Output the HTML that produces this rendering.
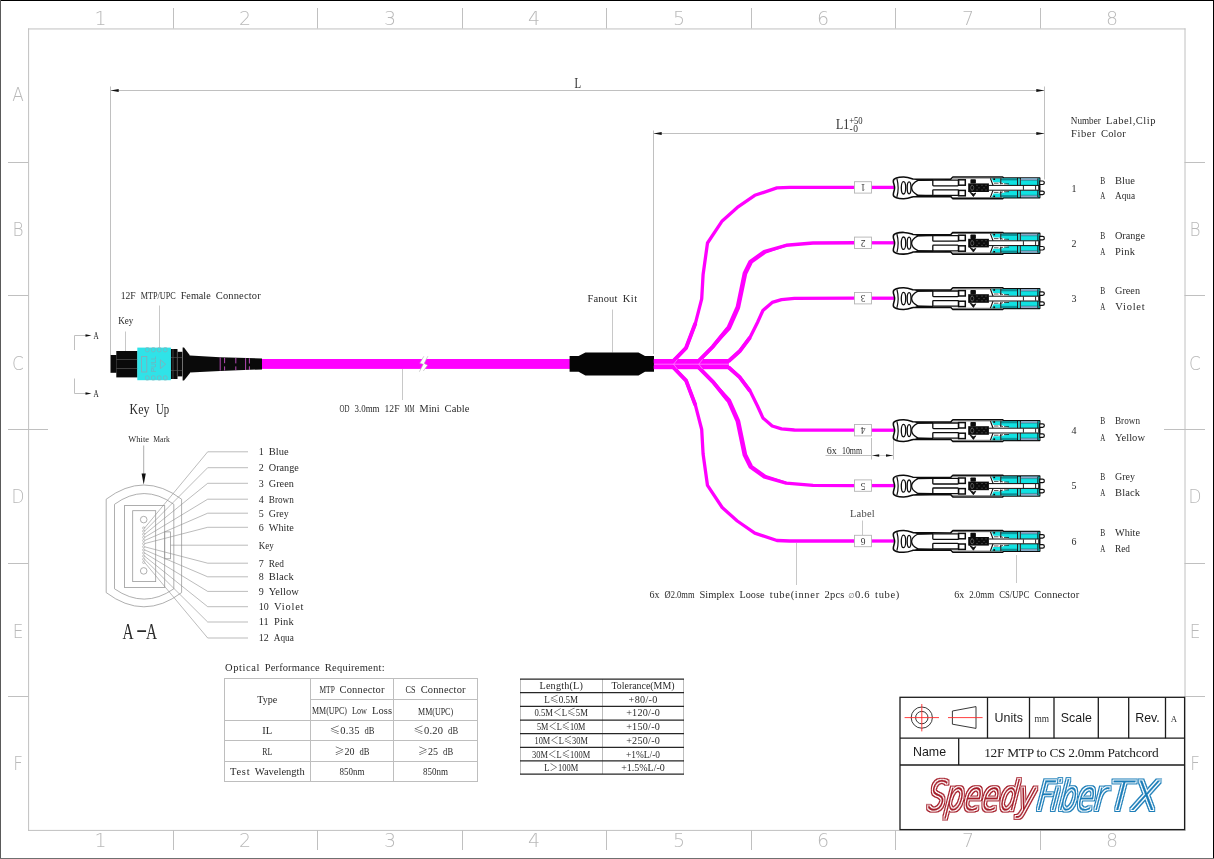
<!DOCTYPE html>
<html lang="en"><head><meta charset="utf-8"><title>12F MTP to CS 2.0mm Patchcord</title>
<style>html,body{margin:0;padding:0;background:#fff;}body{width:1214px;height:859px;overflow:hidden;}svg{display:block;will-change:transform;}text{font-family:"Liberation Serif","Noto Serif CJK SC",serif;white-space:pre;}.sans{font-family:"Liberation Sans","Noto Sans CJK SC",sans-serif;}.thin{font-family:"DejaVu Sans Light","DejaVu Sans","Liberation Sans",sans-serif;font-weight:200;}</style></head><body>
<svg width="1214" height="859" viewBox="0 0 1214 859">
<rect width="1214" height="859" fill="#fff"/>
<g shape-rendering="crispEdges">
<rect x="0.00" y="0.00" width="1214.00" height="1.00" fill="#000" stroke="none" stroke-width="1"/>
<rect x="0.00" y="0.00" width="1.00" height="859.00" fill="#5a5a5a" stroke="none" stroke-width="1"/>
<rect x="1213.00" y="0.00" width="1.00" height="859.00" fill="#000" stroke="none" stroke-width="1"/>
<rect x="0.00" y="858.00" width="1214.00" height="1.00" fill="#707070" stroke="none" stroke-width="1"/>
</g>
<g stroke="#c0c0c0" stroke-width="1" fill="none">
<path d="M28.6 28.4V830.9M1185 28.4V830.9M28.1 28.95H1185.5M28.1 830.4H1185.5"/>
<path d="M173.5 8V28.5M173.5 830V850"/>
<path d="M317.5 8V28.5M317.5 830V850"/>
<path d="M462.5 8V28.5M462.5 830V850"/>
<path d="M606.5 8V28.5M606.5 830V850"/>
<path d="M751.5 8V28.5M751.5 830V850"/>
<path d="M895.5 8V28.5M895.5 830V850"/>
<path d="M1040.5 8V28.5M1040.5 830V850"/>
<path d="M8 162.5H28.5M1184.5 162.5H1205"/>
<path d="M8 295.5H28.5M1184.5 295.5H1205"/>
<path d="M8 429.5H48M1164 429.5H1205"/>
<path d="M8 563.5H28.5M1184.5 563.5H1205"/>
<path d="M8 696.5H28.5M1184.5 696.5H1205"/>
</g>
<g class="thin" font-size="19" fill="#b9b9b9" text-anchor="middle">
<text class="thin" x="100.5" y="25.3">1</text>
<text class="thin" x="100.5" y="847.2">1</text>
<text class="thin" x="245" y="25.3">2</text>
<text class="thin" x="245" y="847.2">2</text>
<text class="thin" x="390" y="25.3">3</text>
<text class="thin" x="390" y="847.2">3</text>
<text class="thin" x="534" y="25.3">4</text>
<text class="thin" x="534" y="847.2">4</text>
<text class="thin" x="679" y="25.3">5</text>
<text class="thin" x="679" y="847.2">5</text>
<text class="thin" x="823" y="25.3">6</text>
<text class="thin" x="823" y="847.2">6</text>
<text class="thin" x="968" y="25.3">7</text>
<text class="thin" x="968" y="847.2">7</text>
<text class="thin" x="1112" y="25.3">8</text>
<text class="thin" x="1112" y="847.2">8</text>
<text class="thin" font-size="19.2" transform="translate(18 100.5) scale(.88 1)">A</text>
<text class="thin" font-size="19.2" transform="translate(18 236.4) scale(.88 1)">B</text>
<text class="thin" font-size="19.2" transform="translate(1195 236.4) scale(.88 1)">B</text>
<text class="thin" font-size="19.2" transform="translate(18 369.6) scale(.88 1)">C</text>
<text class="thin" font-size="19.2" transform="translate(1195 369.6) scale(.88 1)">C</text>
<text class="thin" font-size="19.2" transform="translate(18 502.6) scale(.88 1)">D</text>
<text class="thin" font-size="19.2" transform="translate(1195 502.6) scale(.88 1)">D</text>
<text class="thin" font-size="19.2" transform="translate(18 637.6) scale(.88 1)">E</text>
<text class="thin" font-size="19.2" transform="translate(1195 637.6) scale(.88 1)">E</text>
<text class="thin" font-size="19.2" transform="translate(18 770.0) scale(.88 1)">F</text>
<text class="thin" font-size="19.2" transform="translate(1195 770.0) scale(.88 1)">F</text>
</g>
<g stroke="#c0c0c0" stroke-width="1" fill="none">
<path d="M110.5 86.5V355"/>
<path d="M1044.5 86.5V179.5"/>
<path d="M110.5 90.5H1044.5"/>
<path d="M653.5 130.5V354"/>
<path d="M653.5 133.5H1044.5"/>
<g stroke="#c8c8c8">
<path d="M125.5 331.5V359.5"/>
<path d="M159.5 305.5V347.5"/>
<path d="M402.5 369V400"/>
<path d="M612.5 309.5V352.5"/>
<path d="M796.5 543V585"/>
<path d="M1016.5 555V583"/>
<path d="M862.5 520.5V535"/>
</g>
<path d="M825.5 455.5H872M871.5 438V459.5M893.5 439V459.5"/><path d="M872 455.5H893.5" stroke="#d0d0d0"/>
<path d="M89 335.5H74.5V350M74.5 378.5V393.5H89"/>
</g>
<path d="M110.5 90.5L118.7 89.0L118.7 92.0Z" fill="#111" stroke="none" stroke-width="1"/>
<path d="M1044.5 90.5L1036.3 89.0L1036.3 92.0Z" fill="#111" stroke="none" stroke-width="1"/>
<path d="M653.5 133.5L661.7 132.0L661.7 135.0Z" fill="#111" stroke="none" stroke-width="1"/>
<path d="M1044.5 133.5L1036.3 132.0L1036.3 135.0Z" fill="#111" stroke="none" stroke-width="1"/>
<path d="M91.5 335.5L85.5 334.3L85.5 336.7Z" fill="#111" stroke="none" stroke-width="1"/>
<path d="M91.5 393.5L85.5 392.3L85.5 394.7Z" fill="#111" stroke="none" stroke-width="1"/>
<path d="M872.0 455.6L879.2 454.35L879.2 456.85Z" fill="#111" stroke="none" stroke-width="1"/>
<path d="M893.2 455.6L886.0 454.35L886.0 456.85Z" fill="#111" stroke="none" stroke-width="1"/>
<rect x="258.00" y="359.00" width="315.00" height="9.90" fill="#ff00ff" stroke="none" stroke-width="1"/>
<path d="M423.9 356.2 L419.8 363.2 L423.2 364.3 L419.3 371.8 L423.3 371.0 L427.5 365.3 L424.2 363.4 L427.9 356.2 Z" fill="#fff" stroke="none" stroke-width="1"/>
<path d="M423.9 356.2 L419.8 363.2 L423.2 364.3 L419.3 371.8 M423.3 371.0 L427.5 365.3 L424.2 363.4 L427.9 356.2" fill="none" stroke="#b0b0b0" stroke-width="0.6"/>
<g>
<rect x="110.50" y="355.00" width="6.00" height="17.80" fill="#0a0a0a" stroke="none" stroke-width="1"/>
<rect x="116.30" y="351.00" width="21.20" height="26.40" fill="#0a0a0a" stroke="none" stroke-width="1"/>
<path d="M116.3 359.5H137.5M116.3 368.5H137.5" fill="none" stroke="#555" stroke-width="0.7"/>
<rect x="170.50" y="349.00" width="7.00" height="30.00" fill="#0a0a0a" stroke="none" stroke-width="1"/>
<rect x="177.30" y="351.80" width="5.00" height="24.60" fill="#0a0a0a" stroke="none" stroke-width="1"/>
<path d="M173 349V379M177.3 352V376" fill="none" stroke="#666" stroke-width="0.6"/>
<path d="M170.5 357.5H182M170.5 370.5H182" fill="none" stroke="#555" stroke-width="0.6"/>
<rect x="137.30" y="347.60" width="33.60" height="32.60" fill="#2fe3e8" stroke="none" stroke-width="1"/>
<rect x="145.50" y="347.60" width="3.60" height="4.20" fill="none" stroke="#86aeb8" stroke-width="0.7" rx="1.2"/>
<rect x="145.50" y="375.80" width="3.60" height="4.20" fill="none" stroke="#86aeb8" stroke-width="0.7" rx="1.2"/>
<rect x="151.50" y="347.60" width="3.60" height="4.20" fill="none" stroke="#86aeb8" stroke-width="0.7" rx="1.2"/>
<rect x="151.50" y="375.80" width="3.60" height="4.20" fill="none" stroke="#86aeb8" stroke-width="0.7" rx="1.2"/>
<rect x="157.50" y="347.60" width="3.60" height="4.20" fill="none" stroke="#86aeb8" stroke-width="0.7" rx="1.2"/>
<rect x="157.50" y="375.80" width="3.60" height="4.20" fill="none" stroke="#86aeb8" stroke-width="0.7" rx="1.2"/>
<rect x="163.50" y="347.60" width="3.60" height="4.20" fill="none" stroke="#86aeb8" stroke-width="0.7" rx="1.2"/>
<rect x="163.50" y="375.80" width="3.60" height="4.20" fill="none" stroke="#86aeb8" stroke-width="0.7" rx="1.2"/>
<rect x="141.60" y="356.40" width="5.20" height="15.60" fill="none" stroke="#8aa9b6" stroke-width="0.8"/>
<path d="M160.4 359.8L165.6 364.2L160.4 368.6Z" fill="none" stroke="#8aa9b6" stroke-width="0.8"/>
<text class="sans" font-size="6.3" fill="#84a6b4" text-anchor="middle" transform="translate(156.4 364.0) rotate(-90)">PULL</text>
<path d="M182.6 347.6 L184 347.6 L190 355.5 L190 372.9 L184 380.6 L182.6 380.6 Z" fill="#0a0a0a" stroke="none" stroke-width="1"/>
<path d="M190 355.4 L220 357.2 L262 358.4 L262 369.4 L220 370.9 L190 372.6 Z" fill="#0a0a0a" stroke="none" stroke-width="1"/>
<path d="M220.2 357.6V370.6M224.6 357.8V363.2M224.6 366.4V370.4M235.8 358V363.4M235.8 366.4V370.2M245.6 358.2V370M249.4 358.3V363.5M249.4 366.3V369.9" fill="none" stroke="#e25ae2" stroke-width="0.8"/>
</g>
<path d="M569.6 356 L578.6 356 L585.4 352.4 L638.5 352.4 L645 356 L654 356 L654 371.8 L645 371.8 L638.5 375.4 L585.4 375.4 L578.6 371.8 L569.6 371.8 Z" fill="#050505" stroke="none" stroke-width="1"/>
<rect x="653.90" y="359.00" width="75.00" height="10.20" fill="#ff00ff" stroke="none" stroke-width="1"/>
<path d="M654 364.2H729" fill="none" stroke="#ff8cff" stroke-width="0.8"/>
<path d="M653.9 361.4 L673.0 361.4 L686.1 347.8 L695.4 323.3 L701.7 298.9 L703.1 274.4 L707.5 243.0 L722.2 220.9 L737.3 207.4 L754.8 195.3 L776.9 187.9 L789.7 187.4 L855.0 187.4" fill="none" stroke="#ff00ff" stroke-width="3.3" stroke-linejoin="round" stroke-linecap="butt"/>
<path d="M653.9 367.0 L673.0 367.0 L686.1 380.6 L695.4 405.1 L701.7 429.5 L703.1 454.0 L707.5 485.4 L722.2 507.5 L737.3 521.0 L754.8 533.1 L776.9 540.5 L789.7 541.0 L855.0 541.0" fill="none" stroke="#ff00ff" stroke-width="3.3" stroke-linejoin="round" stroke-linecap="butt"/>
<path d="M673.0 361.4 L686.1 347.8 L695.4 323.3" fill="none" stroke="#ff00ff" stroke-width="3.9" stroke-linejoin="round" stroke-linecap="butt"/>
<path d="M673.0 367.0 L686.1 380.6 L695.4 405.1" fill="none" stroke="#ff00ff" stroke-width="3.9" stroke-linejoin="round" stroke-linecap="butt"/>
<path d="M653.9 361.0 L698.6 361.0 L712.9 346.6 L728.0 328.0 L737.3 307.0 L744.3 273.3 L750.1 261.6 L764.1 251.6 L786.2 245.3 L813.0 243.0 L855.0 242.8" fill="none" stroke="#ff00ff" stroke-width="3.4" stroke-linejoin="round" stroke-linecap="butt"/>
<path d="M653.9 367.4 L698.6 367.4 L712.9 381.8 L728.0 400.4 L737.3 421.4 L744.3 455.1 L750.1 466.8 L764.1 476.8 L786.2 483.1 L813.0 485.4 L855.0 485.6" fill="none" stroke="#ff00ff" stroke-width="3.4" stroke-linejoin="round" stroke-linecap="butt"/>
<path d="M698.6 361.0 L712.9 346.6 L728.0 328.0" fill="none" stroke="#ff00ff" stroke-width="3.9" stroke-linejoin="round" stroke-linecap="butt"/>
<path d="M698.6 367.4 L712.9 381.8 L728.0 400.4" fill="none" stroke="#ff00ff" stroke-width="3.9" stroke-linejoin="round" stroke-linecap="butt"/>
<path d="M653.9 361.2 L728.5 361.2 L739.6 351.3 L750.1 337.3 L757.6 322.2 L762.9 310.5 L772.2 302.4 L781.5 299.6 L794.4 298.4 L855.0 298.2" fill="none" stroke="#ff00ff" stroke-width="3.3" stroke-linejoin="round" stroke-linecap="butt"/>
<path d="M653.9 367.2 L728.5 367.2 L739.6 377.1 L750.1 391.1 L757.6 406.2 L762.9 417.9 L772.2 426.0 L781.5 428.8 L794.4 430.0 L855.0 430.2" fill="none" stroke="#ff00ff" stroke-width="3.3" stroke-linejoin="round" stroke-linecap="butt"/>
<path d="M728.5 361.2 L739.6 351.3 L750.1 337.3" fill="none" stroke="#ff00ff" stroke-width="3.9" stroke-linejoin="round" stroke-linecap="butt"/>
<path d="M728.5 367.2 L739.6 377.1 L750.1 391.1" fill="none" stroke="#ff00ff" stroke-width="3.9" stroke-linejoin="round" stroke-linecap="butt"/>
<path d="M677.4 359.4 L673.6 364.2 L677.4 369 M702.6 359.4 L698.8 364.2 L702.6 369" fill="none" stroke="#ffa8ff" stroke-width="0.6"/>
<path d="M712.9 346.6 L729.6 328.6 L738.9 307.6 L745.9 273.9 L751.7 262.2 L765.7 252.2 L786.2 245.3" fill="none" stroke="#ff00ff" stroke-width="2.6" stroke-linejoin="round" stroke-linecap="butt"/>
<path d="M712.9 381.8 L729.6 399.8 L738.9 420.8 L745.9 454.5 L751.7 466.2 L765.7 476.2 L786.2 483.1" fill="none" stroke="#ff00ff" stroke-width="2.6" stroke-linejoin="round" stroke-linecap="butt"/>
<rect x="871.00" y="185.75" width="23.00" height="3.30" fill="#ff00ff" stroke="none" stroke-width="1"/>
<rect x="871.00" y="241.15" width="23.00" height="3.30" fill="#ff00ff" stroke="none" stroke-width="1"/>
<rect x="871.00" y="296.55" width="23.00" height="3.30" fill="#ff00ff" stroke="none" stroke-width="1"/>
<rect x="871.00" y="428.55" width="23.00" height="3.30" fill="#ff00ff" stroke="none" stroke-width="1"/>
<rect x="871.00" y="483.95" width="23.00" height="3.30" fill="#ff00ff" stroke="none" stroke-width="1"/>
<rect x="871.00" y="539.35" width="23.00" height="3.30" fill="#ff00ff" stroke="none" stroke-width="1"/>
<rect x="854.50" y="181.70" width="17.00" height="11.40" fill="#fff" stroke="#b4b4b4" stroke-width="0.9"/>
<text font-size="9.5" fill="#333" text-anchor="middle" transform="translate(863 184.3) rotate(180)">1</text>
<rect x="854.50" y="237.10" width="17.00" height="11.40" fill="#fff" stroke="#b4b4b4" stroke-width="0.9"/>
<text font-size="9.5" fill="#333" text-anchor="middle" transform="translate(863 239.7) rotate(180)">2</text>
<rect x="854.50" y="292.50" width="17.00" height="11.40" fill="#fff" stroke="#b4b4b4" stroke-width="0.9"/>
<text font-size="9.5" fill="#333" text-anchor="middle" transform="translate(863 295.1) rotate(180)">3</text>
<rect x="854.50" y="424.50" width="17.00" height="11.40" fill="#fff" stroke="#b4b4b4" stroke-width="0.9"/>
<text font-size="9.5" fill="#333" text-anchor="middle" transform="translate(863 427.1) rotate(180)">4</text>
<rect x="854.50" y="479.90" width="17.00" height="11.40" fill="#fff" stroke="#b4b4b4" stroke-width="0.9"/>
<text font-size="9.5" fill="#333" text-anchor="middle" transform="translate(863 482.5) rotate(180)">5</text>
<rect x="854.50" y="535.30" width="17.00" height="11.40" fill="#fff" stroke="#b4b4b4" stroke-width="0.9"/>
<text font-size="9.5" fill="#333" text-anchor="middle" transform="translate(863 537.9) rotate(180)">6</text>
<g transform="translate(893 187.8)">
<path d="M1.6 0 C1.6 -3 .3 -4 .3 -6.8 C.3 -9.6 5 -10.9 10.8 -10.8 C15 -10.8 17.2 -9.8 20 -8.8 L57.6 -8.5 L59.9 -10.8 L109.6 -10.8 L110.6 -9.9 L146.7 -9.9 L146.7 9.9 L110.6 9.9 L109.6 10.9 L59.9 10.9 L57.6 8.6 L20 8.9 C17.2 9.9 15 10.9 10.8 10.9 C5 11 .3 9.7 .3 7 C.3 4 1.6 3 1.6 0Z" fill="#fff" stroke="#0c0c0c" stroke-width="1.55" stroke-linejoin="round"/>
<g transform="scale(1 1)">
<path d="M98.4 -9.9 L107.6 -9.9 L107.6 -5.6 L100.4 -5.6 Z" fill="#10e2e2" stroke="none" stroke-width="1"/>
<path d="M108.1 -9.4 H124.2 V-2.9 H116.5 L108.1 -5.6 Z" fill="#10e2e2" stroke="none" stroke-width="1"/>
<rect x="108.10" y="-9.50" width="16.10" height="1.70" fill="#118f96" stroke="none" stroke-width="1"/>
<rect x="125.10" y="-9.40" width="1.70" height="6.60" fill="#10e2e2" stroke="none" stroke-width="1"/>
<rect x="127.90" y="-9.40" width="18.60" height="6.80" fill="#10e2e2" stroke="none" stroke-width="1"/>
<rect x="127.90" y="-9.50" width="17.00" height="2.00" fill="#8fa3c4" stroke="none" stroke-width="1"/>
<path d="M107.8 -9.9V-3.4M124.6 -9.9V-2.4M127.3 -9.9V-2.4M144.9 -9.4V-2.4" fill="none" stroke="#0c0c0c" stroke-width="1.0"/>
<path d="M108.1 -7.7H124.2M127.9 -7.4H144.9" fill="none" stroke="#0e6e74" stroke-width="0.5"/>
<rect x="100.30" y="-9.60" width="1.80" height="1.80" fill="#0c0c0c" stroke="none" stroke-width="1"/>
<path d="M97.4 -9.6 L100 -2.6" fill="none" stroke="#0c0c0c" stroke-width="1.1"/>
<path d="M101 -4.6 h4.5 M106.6 -5.2 l3.4 1.2 M111 -3.9 h5" fill="none" stroke="#0c0c0c" stroke-width="0.7"/>
<rect x="65.60" y="-8.00" width="6.70" height="5.40" fill="#fff" stroke="#0c0c0c" stroke-width="1.5"/>
<rect x="39.80" y="-7.60" width="25.60" height="5.60" fill="#fff" stroke="#0c0c0c" stroke-width="1.3" rx="0.8"/>
<path d="M146.7 -6.8 H149.6 A1.75 1.75 0 0 1 149.6 -3.3 H146.7 Z" fill="#fff" stroke="#0c0c0c" stroke-width="1.2"/>
<path d="M95.5 -2.4 H146" fill="none" stroke="#0c0c0c" stroke-width="1.0"/>
<path d="M60 -9.7 H109.5" fill="none" stroke="#555" stroke-width="0.8"/>
</g>
<g transform="scale(1 -1)">
<path d="M98.4 -9.9 L107.6 -9.9 L107.6 -5.6 L100.4 -5.6 Z" fill="#10e2e2" stroke="none" stroke-width="1"/>
<path d="M108.1 -9.4 H124.2 V-2.9 H116.5 L108.1 -5.6 Z" fill="#10e2e2" stroke="none" stroke-width="1"/>
<rect x="108.10" y="-9.50" width="16.10" height="1.70" fill="#118f96" stroke="none" stroke-width="1"/>
<rect x="125.10" y="-9.40" width="1.70" height="6.60" fill="#10e2e2" stroke="none" stroke-width="1"/>
<rect x="127.90" y="-9.40" width="18.60" height="6.80" fill="#10e2e2" stroke="none" stroke-width="1"/>
<rect x="127.90" y="-9.50" width="17.00" height="2.00" fill="#8fa3c4" stroke="none" stroke-width="1"/>
<path d="M107.8 -9.9V-3.4M124.6 -9.9V-2.4M127.3 -9.9V-2.4M144.9 -9.4V-2.4" fill="none" stroke="#0c0c0c" stroke-width="1.0"/>
<path d="M108.1 -7.7H124.2M127.9 -7.4H144.9" fill="none" stroke="#0e6e74" stroke-width="0.5"/>
<rect x="100.30" y="-9.60" width="1.80" height="1.80" fill="#0c0c0c" stroke="none" stroke-width="1"/>
<path d="M97.4 -9.6 L100 -2.6" fill="none" stroke="#0c0c0c" stroke-width="1.1"/>
<path d="M101 -4.6 h4.5 M106.6 -5.2 l3.4 1.2 M111 -3.9 h5" fill="none" stroke="#0c0c0c" stroke-width="0.7"/>
<rect x="65.60" y="-8.00" width="6.70" height="5.40" fill="#fff" stroke="#0c0c0c" stroke-width="1.5"/>
<rect x="39.80" y="-7.60" width="25.60" height="5.60" fill="#fff" stroke="#0c0c0c" stroke-width="1.3" rx="0.8"/>
<path d="M146.7 -6.8 H149.6 A1.75 1.75 0 0 1 149.6 -3.3 H146.7 Z" fill="#fff" stroke="#0c0c0c" stroke-width="1.2"/>
<path d="M95.5 -2.4 H146" fill="none" stroke="#0c0c0c" stroke-width="1.0"/>
<path d="M60 -9.7 H109.5" fill="none" stroke="#555" stroke-width="0.8"/>
</g>
<path d="M3.9 -9.2 Q6.4 0 3.9 9.2" fill="none" stroke="#0c0c0c" stroke-width="1.2"/>
<ellipse cx="10.5" cy="0" rx="2.2" ry="6.2" fill="#fff" stroke="#0c0c0c" stroke-width="1.3"/>
<ellipse cx="16.1" cy="0" rx="1.9" ry="6.0" fill="#fff" stroke="#0c0c0c" stroke-width="1.3"/>
<path d="M40 -7.6 L25 -7.4 C20.5 -5.2 18.6 -2.6 18.6 0 C18.6 2.6 20.5 5.2 25 7.5 L40 7.7" fill="none" stroke="#0c0c0c" stroke-width="1.3"/>
<path d="M21 -8.8 L40 -8.6 L40 -7.4 L25 -6.9 Z M21 8.9 L40 8.7 L40 7.5 L25 7.0 Z" fill="#0c0c0c" stroke="none" stroke-width="1"/>
<rect x="75.20" y="-4.40" width="20.70" height="8.60" fill="#0c0c0c" stroke="none" stroke-width="1"/>
<rect x="77.40" y="-8.60" width="5.50" height="4.40" fill="#0c0c0c" stroke="none" stroke-width="1" rx="0.8"/>
<path d="M76.6 4 L80.4 8.8 L82.8 5.2 L80.4 6.2 Z" fill="#0c0c0c" stroke="#0c0c0c" stroke-width="0.8"/>
<path d="M78 -2.5 h2 M83 -2.5 h2 M88 -2.5 h2 M92 -2.5 h2 M78 2.2 h2 M83 2.2 h2 M88 2.2 h2 M92 2.2 h2 M85 0 h2 M90 0 h2" fill="none" stroke="#555" stroke-width="0.6"/>
<ellipse cx="79.2" cy="0" rx="1.6" ry="2.4" fill="none" stroke="#777" stroke-width="0.6"/>
<path d="M130.4 -2 V2 M142.6 -2 V2 M145.7 -2 V2" fill="none" stroke="#0c0c0c" stroke-width="0.9"/>
</g>
<g transform="translate(893 243.2)">
<path d="M1.6 0 C1.6 -3 .3 -4 .3 -6.8 C.3 -9.6 5 -10.9 10.8 -10.8 C15 -10.8 17.2 -9.8 20 -8.8 L57.6 -8.5 L59.9 -10.8 L109.6 -10.8 L110.6 -9.9 L146.7 -9.9 L146.7 9.9 L110.6 9.9 L109.6 10.9 L59.9 10.9 L57.6 8.6 L20 8.9 C17.2 9.9 15 10.9 10.8 10.9 C5 11 .3 9.7 .3 7 C.3 4 1.6 3 1.6 0Z" fill="#fff" stroke="#0c0c0c" stroke-width="1.55" stroke-linejoin="round"/>
<g transform="scale(1 1)">
<path d="M98.4 -9.9 L107.6 -9.9 L107.6 -5.6 L100.4 -5.6 Z" fill="#10e2e2" stroke="none" stroke-width="1"/>
<path d="M108.1 -9.4 H124.2 V-2.9 H116.5 L108.1 -5.6 Z" fill="#10e2e2" stroke="none" stroke-width="1"/>
<rect x="108.10" y="-9.50" width="16.10" height="1.70" fill="#118f96" stroke="none" stroke-width="1"/>
<rect x="125.10" y="-9.40" width="1.70" height="6.60" fill="#10e2e2" stroke="none" stroke-width="1"/>
<rect x="127.90" y="-9.40" width="18.60" height="6.80" fill="#10e2e2" stroke="none" stroke-width="1"/>
<rect x="127.90" y="-9.50" width="17.00" height="2.00" fill="#8fa3c4" stroke="none" stroke-width="1"/>
<path d="M107.8 -9.9V-3.4M124.6 -9.9V-2.4M127.3 -9.9V-2.4M144.9 -9.4V-2.4" fill="none" stroke="#0c0c0c" stroke-width="1.0"/>
<path d="M108.1 -7.7H124.2M127.9 -7.4H144.9" fill="none" stroke="#0e6e74" stroke-width="0.5"/>
<rect x="100.30" y="-9.60" width="1.80" height="1.80" fill="#0c0c0c" stroke="none" stroke-width="1"/>
<path d="M97.4 -9.6 L100 -2.6" fill="none" stroke="#0c0c0c" stroke-width="1.1"/>
<path d="M101 -4.6 h4.5 M106.6 -5.2 l3.4 1.2 M111 -3.9 h5" fill="none" stroke="#0c0c0c" stroke-width="0.7"/>
<rect x="65.60" y="-8.00" width="6.70" height="5.40" fill="#fff" stroke="#0c0c0c" stroke-width="1.5"/>
<rect x="39.80" y="-7.60" width="25.60" height="5.60" fill="#fff" stroke="#0c0c0c" stroke-width="1.3" rx="0.8"/>
<path d="M146.7 -6.8 H149.6 A1.75 1.75 0 0 1 149.6 -3.3 H146.7 Z" fill="#fff" stroke="#0c0c0c" stroke-width="1.2"/>
<path d="M95.5 -2.4 H146" fill="none" stroke="#0c0c0c" stroke-width="1.0"/>
<path d="M60 -9.7 H109.5" fill="none" stroke="#555" stroke-width="0.8"/>
</g>
<g transform="scale(1 -1)">
<path d="M98.4 -9.9 L107.6 -9.9 L107.6 -5.6 L100.4 -5.6 Z" fill="#10e2e2" stroke="none" stroke-width="1"/>
<path d="M108.1 -9.4 H124.2 V-2.9 H116.5 L108.1 -5.6 Z" fill="#10e2e2" stroke="none" stroke-width="1"/>
<rect x="108.10" y="-9.50" width="16.10" height="1.70" fill="#118f96" stroke="none" stroke-width="1"/>
<rect x="125.10" y="-9.40" width="1.70" height="6.60" fill="#10e2e2" stroke="none" stroke-width="1"/>
<rect x="127.90" y="-9.40" width="18.60" height="6.80" fill="#10e2e2" stroke="none" stroke-width="1"/>
<rect x="127.90" y="-9.50" width="17.00" height="2.00" fill="#8fa3c4" stroke="none" stroke-width="1"/>
<path d="M107.8 -9.9V-3.4M124.6 -9.9V-2.4M127.3 -9.9V-2.4M144.9 -9.4V-2.4" fill="none" stroke="#0c0c0c" stroke-width="1.0"/>
<path d="M108.1 -7.7H124.2M127.9 -7.4H144.9" fill="none" stroke="#0e6e74" stroke-width="0.5"/>
<rect x="100.30" y="-9.60" width="1.80" height="1.80" fill="#0c0c0c" stroke="none" stroke-width="1"/>
<path d="M97.4 -9.6 L100 -2.6" fill="none" stroke="#0c0c0c" stroke-width="1.1"/>
<path d="M101 -4.6 h4.5 M106.6 -5.2 l3.4 1.2 M111 -3.9 h5" fill="none" stroke="#0c0c0c" stroke-width="0.7"/>
<rect x="65.60" y="-8.00" width="6.70" height="5.40" fill="#fff" stroke="#0c0c0c" stroke-width="1.5"/>
<rect x="39.80" y="-7.60" width="25.60" height="5.60" fill="#fff" stroke="#0c0c0c" stroke-width="1.3" rx="0.8"/>
<path d="M146.7 -6.8 H149.6 A1.75 1.75 0 0 1 149.6 -3.3 H146.7 Z" fill="#fff" stroke="#0c0c0c" stroke-width="1.2"/>
<path d="M95.5 -2.4 H146" fill="none" stroke="#0c0c0c" stroke-width="1.0"/>
<path d="M60 -9.7 H109.5" fill="none" stroke="#555" stroke-width="0.8"/>
</g>
<path d="M3.9 -9.2 Q6.4 0 3.9 9.2" fill="none" stroke="#0c0c0c" stroke-width="1.2"/>
<ellipse cx="10.5" cy="0" rx="2.2" ry="6.2" fill="#fff" stroke="#0c0c0c" stroke-width="1.3"/>
<ellipse cx="16.1" cy="0" rx="1.9" ry="6.0" fill="#fff" stroke="#0c0c0c" stroke-width="1.3"/>
<path d="M40 -7.6 L25 -7.4 C20.5 -5.2 18.6 -2.6 18.6 0 C18.6 2.6 20.5 5.2 25 7.5 L40 7.7" fill="none" stroke="#0c0c0c" stroke-width="1.3"/>
<path d="M21 -8.8 L40 -8.6 L40 -7.4 L25 -6.9 Z M21 8.9 L40 8.7 L40 7.5 L25 7.0 Z" fill="#0c0c0c" stroke="none" stroke-width="1"/>
<rect x="75.20" y="-4.40" width="20.70" height="8.60" fill="#0c0c0c" stroke="none" stroke-width="1"/>
<rect x="77.40" y="-8.60" width="5.50" height="4.40" fill="#0c0c0c" stroke="none" stroke-width="1" rx="0.8"/>
<path d="M76.6 4 L80.4 8.8 L82.8 5.2 L80.4 6.2 Z" fill="#0c0c0c" stroke="#0c0c0c" stroke-width="0.8"/>
<path d="M78 -2.5 h2 M83 -2.5 h2 M88 -2.5 h2 M92 -2.5 h2 M78 2.2 h2 M83 2.2 h2 M88 2.2 h2 M92 2.2 h2 M85 0 h2 M90 0 h2" fill="none" stroke="#555" stroke-width="0.6"/>
<ellipse cx="79.2" cy="0" rx="1.6" ry="2.4" fill="none" stroke="#777" stroke-width="0.6"/>
<path d="M130.4 -2 V2 M142.6 -2 V2 M145.7 -2 V2" fill="none" stroke="#0c0c0c" stroke-width="0.9"/>
</g>
<g transform="translate(893 298.6)">
<path d="M1.6 0 C1.6 -3 .3 -4 .3 -6.8 C.3 -9.6 5 -10.9 10.8 -10.8 C15 -10.8 17.2 -9.8 20 -8.8 L57.6 -8.5 L59.9 -10.8 L109.6 -10.8 L110.6 -9.9 L146.7 -9.9 L146.7 9.9 L110.6 9.9 L109.6 10.9 L59.9 10.9 L57.6 8.6 L20 8.9 C17.2 9.9 15 10.9 10.8 10.9 C5 11 .3 9.7 .3 7 C.3 4 1.6 3 1.6 0Z" fill="#fff" stroke="#0c0c0c" stroke-width="1.55" stroke-linejoin="round"/>
<g transform="scale(1 1)">
<path d="M98.4 -9.9 L107.6 -9.9 L107.6 -5.6 L100.4 -5.6 Z" fill="#10e2e2" stroke="none" stroke-width="1"/>
<path d="M108.1 -9.4 H124.2 V-2.9 H116.5 L108.1 -5.6 Z" fill="#10e2e2" stroke="none" stroke-width="1"/>
<rect x="108.10" y="-9.50" width="16.10" height="1.70" fill="#118f96" stroke="none" stroke-width="1"/>
<rect x="125.10" y="-9.40" width="1.70" height="6.60" fill="#10e2e2" stroke="none" stroke-width="1"/>
<rect x="127.90" y="-9.40" width="18.60" height="6.80" fill="#10e2e2" stroke="none" stroke-width="1"/>
<rect x="127.90" y="-9.50" width="17.00" height="2.00" fill="#8fa3c4" stroke="none" stroke-width="1"/>
<path d="M107.8 -9.9V-3.4M124.6 -9.9V-2.4M127.3 -9.9V-2.4M144.9 -9.4V-2.4" fill="none" stroke="#0c0c0c" stroke-width="1.0"/>
<path d="M108.1 -7.7H124.2M127.9 -7.4H144.9" fill="none" stroke="#0e6e74" stroke-width="0.5"/>
<rect x="100.30" y="-9.60" width="1.80" height="1.80" fill="#0c0c0c" stroke="none" stroke-width="1"/>
<path d="M97.4 -9.6 L100 -2.6" fill="none" stroke="#0c0c0c" stroke-width="1.1"/>
<path d="M101 -4.6 h4.5 M106.6 -5.2 l3.4 1.2 M111 -3.9 h5" fill="none" stroke="#0c0c0c" stroke-width="0.7"/>
<rect x="65.60" y="-8.00" width="6.70" height="5.40" fill="#fff" stroke="#0c0c0c" stroke-width="1.5"/>
<rect x="39.80" y="-7.60" width="25.60" height="5.60" fill="#fff" stroke="#0c0c0c" stroke-width="1.3" rx="0.8"/>
<path d="M146.7 -6.8 H149.6 A1.75 1.75 0 0 1 149.6 -3.3 H146.7 Z" fill="#fff" stroke="#0c0c0c" stroke-width="1.2"/>
<path d="M95.5 -2.4 H146" fill="none" stroke="#0c0c0c" stroke-width="1.0"/>
<path d="M60 -9.7 H109.5" fill="none" stroke="#555" stroke-width="0.8"/>
</g>
<g transform="scale(1 -1)">
<path d="M98.4 -9.9 L107.6 -9.9 L107.6 -5.6 L100.4 -5.6 Z" fill="#10e2e2" stroke="none" stroke-width="1"/>
<path d="M108.1 -9.4 H124.2 V-2.9 H116.5 L108.1 -5.6 Z" fill="#10e2e2" stroke="none" stroke-width="1"/>
<rect x="108.10" y="-9.50" width="16.10" height="1.70" fill="#118f96" stroke="none" stroke-width="1"/>
<rect x="125.10" y="-9.40" width="1.70" height="6.60" fill="#10e2e2" stroke="none" stroke-width="1"/>
<rect x="127.90" y="-9.40" width="18.60" height="6.80" fill="#10e2e2" stroke="none" stroke-width="1"/>
<rect x="127.90" y="-9.50" width="17.00" height="2.00" fill="#8fa3c4" stroke="none" stroke-width="1"/>
<path d="M107.8 -9.9V-3.4M124.6 -9.9V-2.4M127.3 -9.9V-2.4M144.9 -9.4V-2.4" fill="none" stroke="#0c0c0c" stroke-width="1.0"/>
<path d="M108.1 -7.7H124.2M127.9 -7.4H144.9" fill="none" stroke="#0e6e74" stroke-width="0.5"/>
<rect x="100.30" y="-9.60" width="1.80" height="1.80" fill="#0c0c0c" stroke="none" stroke-width="1"/>
<path d="M97.4 -9.6 L100 -2.6" fill="none" stroke="#0c0c0c" stroke-width="1.1"/>
<path d="M101 -4.6 h4.5 M106.6 -5.2 l3.4 1.2 M111 -3.9 h5" fill="none" stroke="#0c0c0c" stroke-width="0.7"/>
<rect x="65.60" y="-8.00" width="6.70" height="5.40" fill="#fff" stroke="#0c0c0c" stroke-width="1.5"/>
<rect x="39.80" y="-7.60" width="25.60" height="5.60" fill="#fff" stroke="#0c0c0c" stroke-width="1.3" rx="0.8"/>
<path d="M146.7 -6.8 H149.6 A1.75 1.75 0 0 1 149.6 -3.3 H146.7 Z" fill="#fff" stroke="#0c0c0c" stroke-width="1.2"/>
<path d="M95.5 -2.4 H146" fill="none" stroke="#0c0c0c" stroke-width="1.0"/>
<path d="M60 -9.7 H109.5" fill="none" stroke="#555" stroke-width="0.8"/>
</g>
<path d="M3.9 -9.2 Q6.4 0 3.9 9.2" fill="none" stroke="#0c0c0c" stroke-width="1.2"/>
<ellipse cx="10.5" cy="0" rx="2.2" ry="6.2" fill="#fff" stroke="#0c0c0c" stroke-width="1.3"/>
<ellipse cx="16.1" cy="0" rx="1.9" ry="6.0" fill="#fff" stroke="#0c0c0c" stroke-width="1.3"/>
<path d="M40 -7.6 L25 -7.4 C20.5 -5.2 18.6 -2.6 18.6 0 C18.6 2.6 20.5 5.2 25 7.5 L40 7.7" fill="none" stroke="#0c0c0c" stroke-width="1.3"/>
<path d="M21 -8.8 L40 -8.6 L40 -7.4 L25 -6.9 Z M21 8.9 L40 8.7 L40 7.5 L25 7.0 Z" fill="#0c0c0c" stroke="none" stroke-width="1"/>
<rect x="75.20" y="-4.40" width="20.70" height="8.60" fill="#0c0c0c" stroke="none" stroke-width="1"/>
<rect x="77.40" y="-8.60" width="5.50" height="4.40" fill="#0c0c0c" stroke="none" stroke-width="1" rx="0.8"/>
<path d="M76.6 4 L80.4 8.8 L82.8 5.2 L80.4 6.2 Z" fill="#0c0c0c" stroke="#0c0c0c" stroke-width="0.8"/>
<path d="M78 -2.5 h2 M83 -2.5 h2 M88 -2.5 h2 M92 -2.5 h2 M78 2.2 h2 M83 2.2 h2 M88 2.2 h2 M92 2.2 h2 M85 0 h2 M90 0 h2" fill="none" stroke="#555" stroke-width="0.6"/>
<ellipse cx="79.2" cy="0" rx="1.6" ry="2.4" fill="none" stroke="#777" stroke-width="0.6"/>
<path d="M130.4 -2 V2 M142.6 -2 V2 M145.7 -2 V2" fill="none" stroke="#0c0c0c" stroke-width="0.9"/>
</g>
<g transform="translate(893 430.6)">
<path d="M1.6 0 C1.6 -3 .3 -4 .3 -6.8 C.3 -9.6 5 -10.9 10.8 -10.8 C15 -10.8 17.2 -9.8 20 -8.8 L57.6 -8.5 L59.9 -10.8 L109.6 -10.8 L110.6 -9.9 L146.7 -9.9 L146.7 9.9 L110.6 9.9 L109.6 10.9 L59.9 10.9 L57.6 8.6 L20 8.9 C17.2 9.9 15 10.9 10.8 10.9 C5 11 .3 9.7 .3 7 C.3 4 1.6 3 1.6 0Z" fill="#fff" stroke="#0c0c0c" stroke-width="1.55" stroke-linejoin="round"/>
<g transform="scale(1 1)">
<path d="M98.4 -9.9 L107.6 -9.9 L107.6 -5.6 L100.4 -5.6 Z" fill="#10e2e2" stroke="none" stroke-width="1"/>
<path d="M108.1 -9.4 H124.2 V-2.9 H116.5 L108.1 -5.6 Z" fill="#10e2e2" stroke="none" stroke-width="1"/>
<rect x="108.10" y="-9.50" width="16.10" height="1.70" fill="#118f96" stroke="none" stroke-width="1"/>
<rect x="125.10" y="-9.40" width="1.70" height="6.60" fill="#10e2e2" stroke="none" stroke-width="1"/>
<rect x="127.90" y="-9.40" width="18.60" height="6.80" fill="#10e2e2" stroke="none" stroke-width="1"/>
<rect x="127.90" y="-9.50" width="17.00" height="2.00" fill="#8fa3c4" stroke="none" stroke-width="1"/>
<path d="M107.8 -9.9V-3.4M124.6 -9.9V-2.4M127.3 -9.9V-2.4M144.9 -9.4V-2.4" fill="none" stroke="#0c0c0c" stroke-width="1.0"/>
<path d="M108.1 -7.7H124.2M127.9 -7.4H144.9" fill="none" stroke="#0e6e74" stroke-width="0.5"/>
<rect x="100.30" y="-9.60" width="1.80" height="1.80" fill="#0c0c0c" stroke="none" stroke-width="1"/>
<path d="M97.4 -9.6 L100 -2.6" fill="none" stroke="#0c0c0c" stroke-width="1.1"/>
<path d="M101 -4.6 h4.5 M106.6 -5.2 l3.4 1.2 M111 -3.9 h5" fill="none" stroke="#0c0c0c" stroke-width="0.7"/>
<rect x="65.60" y="-8.00" width="6.70" height="5.40" fill="#fff" stroke="#0c0c0c" stroke-width="1.5"/>
<rect x="39.80" y="-7.60" width="25.60" height="5.60" fill="#fff" stroke="#0c0c0c" stroke-width="1.3" rx="0.8"/>
<path d="M146.7 -6.8 H149.6 A1.75 1.75 0 0 1 149.6 -3.3 H146.7 Z" fill="#fff" stroke="#0c0c0c" stroke-width="1.2"/>
<path d="M95.5 -2.4 H146" fill="none" stroke="#0c0c0c" stroke-width="1.0"/>
<path d="M60 -9.7 H109.5" fill="none" stroke="#555" stroke-width="0.8"/>
</g>
<g transform="scale(1 -1)">
<path d="M98.4 -9.9 L107.6 -9.9 L107.6 -5.6 L100.4 -5.6 Z" fill="#10e2e2" stroke="none" stroke-width="1"/>
<path d="M108.1 -9.4 H124.2 V-2.9 H116.5 L108.1 -5.6 Z" fill="#10e2e2" stroke="none" stroke-width="1"/>
<rect x="108.10" y="-9.50" width="16.10" height="1.70" fill="#118f96" stroke="none" stroke-width="1"/>
<rect x="125.10" y="-9.40" width="1.70" height="6.60" fill="#10e2e2" stroke="none" stroke-width="1"/>
<rect x="127.90" y="-9.40" width="18.60" height="6.80" fill="#10e2e2" stroke="none" stroke-width="1"/>
<rect x="127.90" y="-9.50" width="17.00" height="2.00" fill="#8fa3c4" stroke="none" stroke-width="1"/>
<path d="M107.8 -9.9V-3.4M124.6 -9.9V-2.4M127.3 -9.9V-2.4M144.9 -9.4V-2.4" fill="none" stroke="#0c0c0c" stroke-width="1.0"/>
<path d="M108.1 -7.7H124.2M127.9 -7.4H144.9" fill="none" stroke="#0e6e74" stroke-width="0.5"/>
<rect x="100.30" y="-9.60" width="1.80" height="1.80" fill="#0c0c0c" stroke="none" stroke-width="1"/>
<path d="M97.4 -9.6 L100 -2.6" fill="none" stroke="#0c0c0c" stroke-width="1.1"/>
<path d="M101 -4.6 h4.5 M106.6 -5.2 l3.4 1.2 M111 -3.9 h5" fill="none" stroke="#0c0c0c" stroke-width="0.7"/>
<rect x="65.60" y="-8.00" width="6.70" height="5.40" fill="#fff" stroke="#0c0c0c" stroke-width="1.5"/>
<rect x="39.80" y="-7.60" width="25.60" height="5.60" fill="#fff" stroke="#0c0c0c" stroke-width="1.3" rx="0.8"/>
<path d="M146.7 -6.8 H149.6 A1.75 1.75 0 0 1 149.6 -3.3 H146.7 Z" fill="#fff" stroke="#0c0c0c" stroke-width="1.2"/>
<path d="M95.5 -2.4 H146" fill="none" stroke="#0c0c0c" stroke-width="1.0"/>
<path d="M60 -9.7 H109.5" fill="none" stroke="#555" stroke-width="0.8"/>
</g>
<path d="M3.9 -9.2 Q6.4 0 3.9 9.2" fill="none" stroke="#0c0c0c" stroke-width="1.2"/>
<ellipse cx="10.5" cy="0" rx="2.2" ry="6.2" fill="#fff" stroke="#0c0c0c" stroke-width="1.3"/>
<ellipse cx="16.1" cy="0" rx="1.9" ry="6.0" fill="#fff" stroke="#0c0c0c" stroke-width="1.3"/>
<path d="M40 -7.6 L25 -7.4 C20.5 -5.2 18.6 -2.6 18.6 0 C18.6 2.6 20.5 5.2 25 7.5 L40 7.7" fill="none" stroke="#0c0c0c" stroke-width="1.3"/>
<path d="M21 -8.8 L40 -8.6 L40 -7.4 L25 -6.9 Z M21 8.9 L40 8.7 L40 7.5 L25 7.0 Z" fill="#0c0c0c" stroke="none" stroke-width="1"/>
<rect x="75.20" y="-4.40" width="20.70" height="8.60" fill="#0c0c0c" stroke="none" stroke-width="1"/>
<rect x="77.40" y="-8.60" width="5.50" height="4.40" fill="#0c0c0c" stroke="none" stroke-width="1" rx="0.8"/>
<path d="M76.6 4 L80.4 8.8 L82.8 5.2 L80.4 6.2 Z" fill="#0c0c0c" stroke="#0c0c0c" stroke-width="0.8"/>
<path d="M78 -2.5 h2 M83 -2.5 h2 M88 -2.5 h2 M92 -2.5 h2 M78 2.2 h2 M83 2.2 h2 M88 2.2 h2 M92 2.2 h2 M85 0 h2 M90 0 h2" fill="none" stroke="#555" stroke-width="0.6"/>
<ellipse cx="79.2" cy="0" rx="1.6" ry="2.4" fill="none" stroke="#777" stroke-width="0.6"/>
<path d="M130.4 -2 V2 M142.6 -2 V2 M145.7 -2 V2" fill="none" stroke="#0c0c0c" stroke-width="0.9"/>
</g>
<g transform="translate(893 486.0)">
<path d="M1.6 0 C1.6 -3 .3 -4 .3 -6.8 C.3 -9.6 5 -10.9 10.8 -10.8 C15 -10.8 17.2 -9.8 20 -8.8 L57.6 -8.5 L59.9 -10.8 L109.6 -10.8 L110.6 -9.9 L146.7 -9.9 L146.7 9.9 L110.6 9.9 L109.6 10.9 L59.9 10.9 L57.6 8.6 L20 8.9 C17.2 9.9 15 10.9 10.8 10.9 C5 11 .3 9.7 .3 7 C.3 4 1.6 3 1.6 0Z" fill="#fff" stroke="#0c0c0c" stroke-width="1.55" stroke-linejoin="round"/>
<g transform="scale(1 1)">
<path d="M98.4 -9.9 L107.6 -9.9 L107.6 -5.6 L100.4 -5.6 Z" fill="#10e2e2" stroke="none" stroke-width="1"/>
<path d="M108.1 -9.4 H124.2 V-2.9 H116.5 L108.1 -5.6 Z" fill="#10e2e2" stroke="none" stroke-width="1"/>
<rect x="108.10" y="-9.50" width="16.10" height="1.70" fill="#118f96" stroke="none" stroke-width="1"/>
<rect x="125.10" y="-9.40" width="1.70" height="6.60" fill="#10e2e2" stroke="none" stroke-width="1"/>
<rect x="127.90" y="-9.40" width="18.60" height="6.80" fill="#10e2e2" stroke="none" stroke-width="1"/>
<rect x="127.90" y="-9.50" width="17.00" height="2.00" fill="#8fa3c4" stroke="none" stroke-width="1"/>
<path d="M107.8 -9.9V-3.4M124.6 -9.9V-2.4M127.3 -9.9V-2.4M144.9 -9.4V-2.4" fill="none" stroke="#0c0c0c" stroke-width="1.0"/>
<path d="M108.1 -7.7H124.2M127.9 -7.4H144.9" fill="none" stroke="#0e6e74" stroke-width="0.5"/>
<rect x="100.30" y="-9.60" width="1.80" height="1.80" fill="#0c0c0c" stroke="none" stroke-width="1"/>
<path d="M97.4 -9.6 L100 -2.6" fill="none" stroke="#0c0c0c" stroke-width="1.1"/>
<path d="M101 -4.6 h4.5 M106.6 -5.2 l3.4 1.2 M111 -3.9 h5" fill="none" stroke="#0c0c0c" stroke-width="0.7"/>
<rect x="65.60" y="-8.00" width="6.70" height="5.40" fill="#fff" stroke="#0c0c0c" stroke-width="1.5"/>
<rect x="39.80" y="-7.60" width="25.60" height="5.60" fill="#fff" stroke="#0c0c0c" stroke-width="1.3" rx="0.8"/>
<path d="M146.7 -6.8 H149.6 A1.75 1.75 0 0 1 149.6 -3.3 H146.7 Z" fill="#fff" stroke="#0c0c0c" stroke-width="1.2"/>
<path d="M95.5 -2.4 H146" fill="none" stroke="#0c0c0c" stroke-width="1.0"/>
<path d="M60 -9.7 H109.5" fill="none" stroke="#555" stroke-width="0.8"/>
</g>
<g transform="scale(1 -1)">
<path d="M98.4 -9.9 L107.6 -9.9 L107.6 -5.6 L100.4 -5.6 Z" fill="#10e2e2" stroke="none" stroke-width="1"/>
<path d="M108.1 -9.4 H124.2 V-2.9 H116.5 L108.1 -5.6 Z" fill="#10e2e2" stroke="none" stroke-width="1"/>
<rect x="108.10" y="-9.50" width="16.10" height="1.70" fill="#118f96" stroke="none" stroke-width="1"/>
<rect x="125.10" y="-9.40" width="1.70" height="6.60" fill="#10e2e2" stroke="none" stroke-width="1"/>
<rect x="127.90" y="-9.40" width="18.60" height="6.80" fill="#10e2e2" stroke="none" stroke-width="1"/>
<rect x="127.90" y="-9.50" width="17.00" height="2.00" fill="#8fa3c4" stroke="none" stroke-width="1"/>
<path d="M107.8 -9.9V-3.4M124.6 -9.9V-2.4M127.3 -9.9V-2.4M144.9 -9.4V-2.4" fill="none" stroke="#0c0c0c" stroke-width="1.0"/>
<path d="M108.1 -7.7H124.2M127.9 -7.4H144.9" fill="none" stroke="#0e6e74" stroke-width="0.5"/>
<rect x="100.30" y="-9.60" width="1.80" height="1.80" fill="#0c0c0c" stroke="none" stroke-width="1"/>
<path d="M97.4 -9.6 L100 -2.6" fill="none" stroke="#0c0c0c" stroke-width="1.1"/>
<path d="M101 -4.6 h4.5 M106.6 -5.2 l3.4 1.2 M111 -3.9 h5" fill="none" stroke="#0c0c0c" stroke-width="0.7"/>
<rect x="65.60" y="-8.00" width="6.70" height="5.40" fill="#fff" stroke="#0c0c0c" stroke-width="1.5"/>
<rect x="39.80" y="-7.60" width="25.60" height="5.60" fill="#fff" stroke="#0c0c0c" stroke-width="1.3" rx="0.8"/>
<path d="M146.7 -6.8 H149.6 A1.75 1.75 0 0 1 149.6 -3.3 H146.7 Z" fill="#fff" stroke="#0c0c0c" stroke-width="1.2"/>
<path d="M95.5 -2.4 H146" fill="none" stroke="#0c0c0c" stroke-width="1.0"/>
<path d="M60 -9.7 H109.5" fill="none" stroke="#555" stroke-width="0.8"/>
</g>
<path d="M3.9 -9.2 Q6.4 0 3.9 9.2" fill="none" stroke="#0c0c0c" stroke-width="1.2"/>
<ellipse cx="10.5" cy="0" rx="2.2" ry="6.2" fill="#fff" stroke="#0c0c0c" stroke-width="1.3"/>
<ellipse cx="16.1" cy="0" rx="1.9" ry="6.0" fill="#fff" stroke="#0c0c0c" stroke-width="1.3"/>
<path d="M40 -7.6 L25 -7.4 C20.5 -5.2 18.6 -2.6 18.6 0 C18.6 2.6 20.5 5.2 25 7.5 L40 7.7" fill="none" stroke="#0c0c0c" stroke-width="1.3"/>
<path d="M21 -8.8 L40 -8.6 L40 -7.4 L25 -6.9 Z M21 8.9 L40 8.7 L40 7.5 L25 7.0 Z" fill="#0c0c0c" stroke="none" stroke-width="1"/>
<rect x="75.20" y="-4.40" width="20.70" height="8.60" fill="#0c0c0c" stroke="none" stroke-width="1"/>
<rect x="77.40" y="-8.60" width="5.50" height="4.40" fill="#0c0c0c" stroke="none" stroke-width="1" rx="0.8"/>
<path d="M76.6 4 L80.4 8.8 L82.8 5.2 L80.4 6.2 Z" fill="#0c0c0c" stroke="#0c0c0c" stroke-width="0.8"/>
<path d="M78 -2.5 h2 M83 -2.5 h2 M88 -2.5 h2 M92 -2.5 h2 M78 2.2 h2 M83 2.2 h2 M88 2.2 h2 M92 2.2 h2 M85 0 h2 M90 0 h2" fill="none" stroke="#555" stroke-width="0.6"/>
<ellipse cx="79.2" cy="0" rx="1.6" ry="2.4" fill="none" stroke="#777" stroke-width="0.6"/>
<path d="M130.4 -2 V2 M142.6 -2 V2 M145.7 -2 V2" fill="none" stroke="#0c0c0c" stroke-width="0.9"/>
</g>
<g transform="translate(893 541.4)">
<path d="M1.6 0 C1.6 -3 .3 -4 .3 -6.8 C.3 -9.6 5 -10.9 10.8 -10.8 C15 -10.8 17.2 -9.8 20 -8.8 L57.6 -8.5 L59.9 -10.8 L109.6 -10.8 L110.6 -9.9 L146.7 -9.9 L146.7 9.9 L110.6 9.9 L109.6 10.9 L59.9 10.9 L57.6 8.6 L20 8.9 C17.2 9.9 15 10.9 10.8 10.9 C5 11 .3 9.7 .3 7 C.3 4 1.6 3 1.6 0Z" fill="#fff" stroke="#0c0c0c" stroke-width="1.55" stroke-linejoin="round"/>
<g transform="scale(1 1)">
<path d="M98.4 -9.9 L107.6 -9.9 L107.6 -5.6 L100.4 -5.6 Z" fill="#10e2e2" stroke="none" stroke-width="1"/>
<path d="M108.1 -9.4 H124.2 V-2.9 H116.5 L108.1 -5.6 Z" fill="#10e2e2" stroke="none" stroke-width="1"/>
<rect x="108.10" y="-9.50" width="16.10" height="1.70" fill="#118f96" stroke="none" stroke-width="1"/>
<rect x="125.10" y="-9.40" width="1.70" height="6.60" fill="#10e2e2" stroke="none" stroke-width="1"/>
<rect x="127.90" y="-9.40" width="18.60" height="6.80" fill="#10e2e2" stroke="none" stroke-width="1"/>
<rect x="127.90" y="-9.50" width="17.00" height="2.00" fill="#8fa3c4" stroke="none" stroke-width="1"/>
<path d="M107.8 -9.9V-3.4M124.6 -9.9V-2.4M127.3 -9.9V-2.4M144.9 -9.4V-2.4" fill="none" stroke="#0c0c0c" stroke-width="1.0"/>
<path d="M108.1 -7.7H124.2M127.9 -7.4H144.9" fill="none" stroke="#0e6e74" stroke-width="0.5"/>
<rect x="100.30" y="-9.60" width="1.80" height="1.80" fill="#0c0c0c" stroke="none" stroke-width="1"/>
<path d="M97.4 -9.6 L100 -2.6" fill="none" stroke="#0c0c0c" stroke-width="1.1"/>
<path d="M101 -4.6 h4.5 M106.6 -5.2 l3.4 1.2 M111 -3.9 h5" fill="none" stroke="#0c0c0c" stroke-width="0.7"/>
<rect x="65.60" y="-8.00" width="6.70" height="5.40" fill="#fff" stroke="#0c0c0c" stroke-width="1.5"/>
<rect x="39.80" y="-7.60" width="25.60" height="5.60" fill="#fff" stroke="#0c0c0c" stroke-width="1.3" rx="0.8"/>
<path d="M146.7 -6.8 H149.6 A1.75 1.75 0 0 1 149.6 -3.3 H146.7 Z" fill="#fff" stroke="#0c0c0c" stroke-width="1.2"/>
<path d="M95.5 -2.4 H146" fill="none" stroke="#0c0c0c" stroke-width="1.0"/>
<path d="M60 -9.7 H109.5" fill="none" stroke="#555" stroke-width="0.8"/>
</g>
<g transform="scale(1 -1)">
<path d="M98.4 -9.9 L107.6 -9.9 L107.6 -5.6 L100.4 -5.6 Z" fill="#10e2e2" stroke="none" stroke-width="1"/>
<path d="M108.1 -9.4 H124.2 V-2.9 H116.5 L108.1 -5.6 Z" fill="#10e2e2" stroke="none" stroke-width="1"/>
<rect x="108.10" y="-9.50" width="16.10" height="1.70" fill="#118f96" stroke="none" stroke-width="1"/>
<rect x="125.10" y="-9.40" width="1.70" height="6.60" fill="#10e2e2" stroke="none" stroke-width="1"/>
<rect x="127.90" y="-9.40" width="18.60" height="6.80" fill="#10e2e2" stroke="none" stroke-width="1"/>
<rect x="127.90" y="-9.50" width="17.00" height="2.00" fill="#8fa3c4" stroke="none" stroke-width="1"/>
<path d="M107.8 -9.9V-3.4M124.6 -9.9V-2.4M127.3 -9.9V-2.4M144.9 -9.4V-2.4" fill="none" stroke="#0c0c0c" stroke-width="1.0"/>
<path d="M108.1 -7.7H124.2M127.9 -7.4H144.9" fill="none" stroke="#0e6e74" stroke-width="0.5"/>
<rect x="100.30" y="-9.60" width="1.80" height="1.80" fill="#0c0c0c" stroke="none" stroke-width="1"/>
<path d="M97.4 -9.6 L100 -2.6" fill="none" stroke="#0c0c0c" stroke-width="1.1"/>
<path d="M101 -4.6 h4.5 M106.6 -5.2 l3.4 1.2 M111 -3.9 h5" fill="none" stroke="#0c0c0c" stroke-width="0.7"/>
<rect x="65.60" y="-8.00" width="6.70" height="5.40" fill="#fff" stroke="#0c0c0c" stroke-width="1.5"/>
<rect x="39.80" y="-7.60" width="25.60" height="5.60" fill="#fff" stroke="#0c0c0c" stroke-width="1.3" rx="0.8"/>
<path d="M146.7 -6.8 H149.6 A1.75 1.75 0 0 1 149.6 -3.3 H146.7 Z" fill="#fff" stroke="#0c0c0c" stroke-width="1.2"/>
<path d="M95.5 -2.4 H146" fill="none" stroke="#0c0c0c" stroke-width="1.0"/>
<path d="M60 -9.7 H109.5" fill="none" stroke="#555" stroke-width="0.8"/>
</g>
<path d="M3.9 -9.2 Q6.4 0 3.9 9.2" fill="none" stroke="#0c0c0c" stroke-width="1.2"/>
<ellipse cx="10.5" cy="0" rx="2.2" ry="6.2" fill="#fff" stroke="#0c0c0c" stroke-width="1.3"/>
<ellipse cx="16.1" cy="0" rx="1.9" ry="6.0" fill="#fff" stroke="#0c0c0c" stroke-width="1.3"/>
<path d="M40 -7.6 L25 -7.4 C20.5 -5.2 18.6 -2.6 18.6 0 C18.6 2.6 20.5 5.2 25 7.5 L40 7.7" fill="none" stroke="#0c0c0c" stroke-width="1.3"/>
<path d="M21 -8.8 L40 -8.6 L40 -7.4 L25 -6.9 Z M21 8.9 L40 8.7 L40 7.5 L25 7.0 Z" fill="#0c0c0c" stroke="none" stroke-width="1"/>
<rect x="75.20" y="-4.40" width="20.70" height="8.60" fill="#0c0c0c" stroke="none" stroke-width="1"/>
<rect x="77.40" y="-8.60" width="5.50" height="4.40" fill="#0c0c0c" stroke="none" stroke-width="1" rx="0.8"/>
<path d="M76.6 4 L80.4 8.8 L82.8 5.2 L80.4 6.2 Z" fill="#0c0c0c" stroke="#0c0c0c" stroke-width="0.8"/>
<path d="M78 -2.5 h2 M83 -2.5 h2 M88 -2.5 h2 M92 -2.5 h2 M78 2.2 h2 M83 2.2 h2 M88 2.2 h2 M92 2.2 h2 M85 0 h2 M90 0 h2" fill="none" stroke="#555" stroke-width="0.6"/>
<ellipse cx="79.2" cy="0" rx="1.6" ry="2.4" fill="none" stroke="#777" stroke-width="0.6"/>
<path d="M130.4 -2 V2 M142.6 -2 V2 M145.7 -2 V2" fill="none" stroke="#0c0c0c" stroke-width="0.9"/>
</g>
<text y="299.2" font-size="10.50" fill="#2a2a2a"><tspan x="120.70" textLength="15.00" lengthAdjust="spacingAndGlyphs">12F</tspan> <tspan x="140.70" textLength="35.00" lengthAdjust="spacingAndGlyphs">MTP/UPC</tspan> <tspan x="180.70" textLength="30.00" lengthAdjust="spacingAndGlyphs">Female</tspan> <tspan x="215.77" textLength="44.86" lengthAdjust="spacing">Connector</tspan></text>
<text y="324.2" font-size="10.50" fill="#2a2a2a"><tspan x="118.20" textLength="15.00" lengthAdjust="spacingAndGlyphs">Key</tspan></text>
<text font-size="10.6" fill="#2a2a2a" transform="translate(93.6 339) scale(.68 1)">A</text>
<text font-size="10.6" fill="#2a2a2a" transform="translate(93.6 397) scale(.68 1)">A</text>
<text y="413.6" font-size="13.86" fill="#2a2a2a"><tspan x="129.60" textLength="19.80" lengthAdjust="spacingAndGlyphs">Key</tspan> <tspan x="156.00" textLength="13.20" lengthAdjust="spacingAndGlyphs">Up</tspan></text>
<text y="412.2" font-size="10.50" fill="#2a2a2a"><tspan x="339.50" textLength="10.00" lengthAdjust="spacingAndGlyphs">OD</tspan> <tspan x="354.50" textLength="25.00" lengthAdjust="spacingAndGlyphs">3.0mm</tspan> <tspan x="384.50" textLength="15.00" lengthAdjust="spacingAndGlyphs">12F</tspan> <tspan x="404.50" textLength="10.00" lengthAdjust="spacingAndGlyphs">MM</tspan> <tspan x="419.50" textLength="20.00" lengthAdjust="spacingAndGlyphs">Mini</tspan> <tspan x="444.55" textLength="24.90" lengthAdjust="spacing">Cable</tspan></text>
<text y="302.2" font-size="10.50" fill="#2a2a2a"><tspan x="587.57" textLength="29.86" lengthAdjust="spacing">Fanout</tspan> <tspan x="622.76" textLength="14.47" lengthAdjust="spacing">Kit</tspan></text>
<text y="88.4" font-size="13.86" fill="#2a2a2a"><tspan x="574.60" textLength="6.60" lengthAdjust="spacingAndGlyphs">L</tspan></text>
<text y="129.1" font-size="13.86" fill="#2a2a2a"><tspan x="836.00" textLength="13.20" lengthAdjust="spacingAndGlyphs">L1</tspan></text>
<text y="123.6" font-size="9.45" fill="#2a2a2a"><tspan x="849.20" textLength="13.50" lengthAdjust="spacingAndGlyphs">+50</tspan></text>
<text y="131.7" font-size="9.45" fill="#2a2a2a"><tspan x="849.48" textLength="8.44" lengthAdjust="spacing">-0</tspan></text>
<text y="123.7" font-size="10.50" fill="#2a2a2a"><tspan x="1070.80" textLength="30.00" lengthAdjust="spacingAndGlyphs">Number</tspan> <tspan x="1106.07" textLength="49.46" lengthAdjust="spacing">Label,Clip</tspan></text>
<text y="137.3" font-size="10.50" fill="#2a2a2a"><tspan x="1071.08" textLength="24.43" lengthAdjust="spacing">Fiber</tspan> <tspan x="1100.91" textLength="24.78" lengthAdjust="spacing">Color</tspan></text>
<text y="191.6" font-size="10.50" fill="#2a2a2a"><tspan x="1071.50" textLength="5.00" lengthAdjust="spacingAndGlyphs">1</tspan></text>
<text y="183.9" font-size="10.50" fill="#2a2a2a"><tspan x="1100.20" textLength="5.00" lengthAdjust="spacingAndGlyphs">B</tspan></text>
<text y="183.9" font-size="10.50" fill="#2a2a2a"><tspan x="1115.02" textLength="19.96" lengthAdjust="spacing">Blue</tspan></text>
<text y="198.8" font-size="10.50" fill="#2a2a2a"><tspan x="1100.20" textLength="5.00" lengthAdjust="spacingAndGlyphs">A</tspan></text>
<text y="198.8" font-size="10.50" fill="#2a2a2a"><tspan x="1115.00" textLength="20.00" lengthAdjust="spacingAndGlyphs">Aqua</tspan></text>
<text y="247.0" font-size="10.50" fill="#2a2a2a"><tspan x="1071.50" textLength="5.00" lengthAdjust="spacingAndGlyphs">2</tspan></text>
<text y="238.5" font-size="10.50" fill="#2a2a2a"><tspan x="1100.20" textLength="5.00" lengthAdjust="spacingAndGlyphs">B</tspan></text>
<text y="238.5" font-size="10.50" fill="#2a2a2a"><tspan x="1115.00" textLength="30.00" lengthAdjust="spacingAndGlyphs">Orange</tspan></text>
<text y="254.6" font-size="10.50" fill="#2a2a2a"><tspan x="1100.20" textLength="5.00" lengthAdjust="spacingAndGlyphs">A</tspan></text>
<text y="254.6" font-size="10.50" fill="#2a2a2a"><tspan x="1115.09" textLength="19.81" lengthAdjust="spacing">Pink</tspan></text>
<text y="302.2" font-size="10.50" fill="#2a2a2a"><tspan x="1071.50" textLength="5.00" lengthAdjust="spacingAndGlyphs">3</tspan></text>
<text y="293.6" font-size="10.50" fill="#2a2a2a"><tspan x="1100.20" textLength="5.00" lengthAdjust="spacingAndGlyphs">B</tspan></text>
<text y="293.6" font-size="10.50" fill="#2a2a2a"><tspan x="1115.00" textLength="25.00" lengthAdjust="spacingAndGlyphs">Green</tspan></text>
<text y="309.5" font-size="10.50" fill="#2a2a2a"><tspan x="1100.20" textLength="5.00" lengthAdjust="spacingAndGlyphs">A</tspan></text>
<text y="309.5" font-size="10.50" fill="#2a2a2a"><tspan x="1115.31" textLength="29.37" lengthAdjust="spacing">Violet</tspan></text>
<text y="433.6" font-size="10.50" fill="#2a2a2a"><tspan x="1071.50" textLength="5.00" lengthAdjust="spacingAndGlyphs">4</tspan></text>
<text y="423.8" font-size="10.50" fill="#2a2a2a"><tspan x="1100.20" textLength="5.00" lengthAdjust="spacingAndGlyphs">B</tspan></text>
<text y="423.8" font-size="10.50" fill="#2a2a2a"><tspan x="1115.00" textLength="25.00" lengthAdjust="spacingAndGlyphs">Brown</tspan></text>
<text y="441.2" font-size="10.50" fill="#2a2a2a"><tspan x="1100.20" textLength="5.00" lengthAdjust="spacingAndGlyphs">A</tspan></text>
<text y="441.2" font-size="10.50" fill="#2a2a2a"><tspan x="1115.00" textLength="30.00" lengthAdjust="spacingAndGlyphs">Yellow</tspan></text>
<text y="489.2" font-size="10.50" fill="#2a2a2a"><tspan x="1071.50" textLength="5.00" lengthAdjust="spacingAndGlyphs">5</tspan></text>
<text y="480.2" font-size="10.50" fill="#2a2a2a"><tspan x="1100.20" textLength="5.00" lengthAdjust="spacingAndGlyphs">B</tspan></text>
<text y="480.2" font-size="10.50" fill="#2a2a2a"><tspan x="1115.00" textLength="20.00" lengthAdjust="spacingAndGlyphs">Grey</tspan></text>
<text y="495.6" font-size="10.50" fill="#2a2a2a"><tspan x="1100.20" textLength="5.00" lengthAdjust="spacingAndGlyphs">A</tspan></text>
<text y="495.6" font-size="10.50" fill="#2a2a2a"><tspan x="1115.05" textLength="24.90" lengthAdjust="spacing">Black</tspan></text>
<text y="545.0" font-size="10.50" fill="#2a2a2a"><tspan x="1071.50" textLength="5.00" lengthAdjust="spacingAndGlyphs">6</tspan></text>
<text y="536.0" font-size="10.50" fill="#2a2a2a"><tspan x="1100.20" textLength="5.00" lengthAdjust="spacingAndGlyphs">B</tspan></text>
<text y="536.0" font-size="10.50" fill="#2a2a2a"><tspan x="1115.00" textLength="25.00" lengthAdjust="spacingAndGlyphs">White</tspan></text>
<text y="552.2" font-size="10.50" fill="#2a2a2a"><tspan x="1100.20" textLength="5.00" lengthAdjust="spacingAndGlyphs">A</tspan></text>
<text y="552.2" font-size="10.50" fill="#2a2a2a"><tspan x="1115.00" textLength="15.00" lengthAdjust="spacingAndGlyphs">Red</tspan></text>
<text y="454.2" font-size="10.50" fill="#2a2a2a"><tspan x="826.80" textLength="10.10" lengthAdjust="spacingAndGlyphs">6x</tspan> <tspan x="841.95" textLength="20.20" lengthAdjust="spacingAndGlyphs">10mm</tspan></text>
<text y="517.2" font-size="10.50" fill="#4a4a4a"><tspan x="849.91" textLength="24.78" lengthAdjust="spacing">Label</tspan></text>
<text y="598.2" font-size="10.50" fill="#2a2a2a"><tspan x="649.50" textLength="10.00" lengthAdjust="spacingAndGlyphs">6x</tspan> <tspan x="664.50" textLength="30.00" lengthAdjust="spacingAndGlyphs">Ø2.0mm</tspan> <tspan x="699.50" textLength="35.00" lengthAdjust="spacing">Simplex</tspan> <tspan x="739.50" textLength="25.00" lengthAdjust="spacingAndGlyphs">Loose</tspan> <tspan x="769.84" textLength="49.31" lengthAdjust="spacing">tube(inner</tspan> <tspan x="824.59" textLength="19.81" lengthAdjust="spacing">2pcs</tspan></text>
<text x="848.2" y="598.0" font-size="7.2" fill="#666" style="font-family:'DejaVu Sans','Noto Sans CJK SC',sans-serif">∅</text>
<text y="598.2" font-size="10.50" fill="#2a2a2a"><tspan x="855.01" textLength="14.38" lengthAdjust="spacing">0.6</tspan> <tspan x="875.04" textLength="24.31" lengthAdjust="spacing">tube)</tspan></text>
<text y="598.2" font-size="10.50" fill="#2a2a2a"><tspan x="954.20" textLength="10.00" lengthAdjust="spacingAndGlyphs">6x</tspan> <tspan x="969.20" textLength="25.00" lengthAdjust="spacingAndGlyphs">2.0mm</tspan> <tspan x="999.20" textLength="30.00" lengthAdjust="spacingAndGlyphs">CS/UPC</tspan> <tspan x="1034.27" textLength="44.86" lengthAdjust="spacing">Connector</tspan></text>
<g stroke="#9a9a9a" stroke-width="0.8" fill="none">
<path d="M106.2 499.2 V592.6 Q143.9 621 181.6 592.6 V499.2 Q143.9 470.8 106.2 499.2 Z" fill="none" stroke="#9a9a9a" stroke-width="0.8"/>
<path d="M114.5 504.3 V588.8 Q144.1 609.4 173.8 588.8 V504.3 Q144.1 482.8 114.5 504.3 Z" fill="none" stroke="#9a9a9a" stroke-width="0.8"/>
<rect x="124.50" y="505.60" width="40.20" height="81.90" fill="none" stroke="#9a9a9a" stroke-width="0.8"/>
<rect x="132.70" y="510.70" width="23.00" height="70.90" fill="none" stroke="#9a9a9a" stroke-width="0.8"/>
<rect x="164.70" y="531.90" width="5.90" height="26.90" fill="none" stroke="#9a9a9a" stroke-width="0.8"/>
<circle cx="143.7" cy="519.6" r="3.3"/><circle cx="143.7" cy="570.9" r="3.3"/>
<circle cx="143.7" cy="528.00" r="1.1" stroke-width="0.6"/>
<circle cx="143.7" cy="531.13" r="1.1" stroke-width="0.6"/>
<circle cx="143.7" cy="534.26" r="1.1" stroke-width="0.6"/>
<circle cx="143.7" cy="537.39" r="1.1" stroke-width="0.6"/>
<circle cx="143.7" cy="540.52" r="1.1" stroke-width="0.6"/>
<circle cx="143.7" cy="543.65" r="1.1" stroke-width="0.6"/>
<circle cx="143.7" cy="546.78" r="1.1" stroke-width="0.6"/>
<circle cx="143.7" cy="549.91" r="1.1" stroke-width="0.6"/>
<circle cx="143.7" cy="553.04" r="1.1" stroke-width="0.6"/>
<circle cx="143.7" cy="556.17" r="1.1" stroke-width="0.6"/>
<circle cx="143.7" cy="559.30" r="1.1" stroke-width="0.6"/>
<circle cx="143.7" cy="562.43" r="1.1" stroke-width="0.6"/>
</g>
<g stroke="#8e8e8e" stroke-width="0.6" fill="none">
<path d="M144.6 528.0 L207.7 451.8 H248"/>
<path d="M144.6 531.1 L207.7 467.7 H248"/>
<path d="M144.6 534.3 L207.7 483.3 H248"/>
<path d="M144.6 537.4 L207.7 499.2 H248"/>
<path d="M144.6 540.5 L207.7 513.2 H248"/>
<path d="M144.6 543.6 L207.7 527.3 H248"/>
<path d="M144.6 546.8 L207.7 563.2 H248"/>
<path d="M144.6 549.9 L207.7 576.8 H248"/>
<path d="M144.6 553.0 L207.7 591.4 H248"/>
<path d="M144.6 556.2 L207.7 606.7 H248"/>
<path d="M144.6 559.3 L207.7 622.0 H248"/>
<path d="M144.6 562.4 L207.7 638.0 H248"/>
<path d="M170.6 545.2 H248"/>
<path d="M143.7 445.5 V474" stroke="#777"/>
</g>
<path d="M143.7 484.6 L141.6 473.6 L145.8 473.6 Z" fill="#111" stroke="none" stroke-width="1"/>
<text y="442.2" font-size="8.72" fill="#2a2a2a"><tspan x="128.30" textLength="20.75" lengthAdjust="spacingAndGlyphs">White</tspan> <tspan x="153.20" textLength="16.60" lengthAdjust="spacingAndGlyphs">Mark</tspan></text>
<text y="455.2" font-size="10.50" fill="#2a2a2a"><tspan x="258.80" textLength="5.00" lengthAdjust="spacingAndGlyphs">1</tspan> <tspan x="268.82" textLength="19.96" lengthAdjust="spacing">Blue</tspan></text>
<text y="471.1" font-size="10.50" fill="#2a2a2a"><tspan x="258.80" textLength="5.00" lengthAdjust="spacingAndGlyphs">2</tspan> <tspan x="268.80" textLength="30.00" lengthAdjust="spacingAndGlyphs">Orange</tspan></text>
<text y="486.7" font-size="10.50" fill="#2a2a2a"><tspan x="258.80" textLength="5.00" lengthAdjust="spacingAndGlyphs">3</tspan> <tspan x="268.80" textLength="25.00" lengthAdjust="spacingAndGlyphs">Green</tspan></text>
<text y="502.6" font-size="10.50" fill="#2a2a2a"><tspan x="258.80" textLength="5.00" lengthAdjust="spacingAndGlyphs">4</tspan> <tspan x="268.80" textLength="25.00" lengthAdjust="spacingAndGlyphs">Brown</tspan></text>
<text y="516.6" font-size="10.50" fill="#2a2a2a"><tspan x="258.80" textLength="5.00" lengthAdjust="spacingAndGlyphs">5</tspan> <tspan x="268.80" textLength="20.00" lengthAdjust="spacingAndGlyphs">Grey</tspan></text>
<text y="530.7" font-size="10.50" fill="#2a2a2a"><tspan x="258.80" textLength="5.00" lengthAdjust="spacingAndGlyphs">6</tspan> <tspan x="268.80" textLength="25.00" lengthAdjust="spacingAndGlyphs">White</tspan></text>
<text y="566.6" font-size="10.50" fill="#2a2a2a"><tspan x="258.80" textLength="5.00" lengthAdjust="spacingAndGlyphs">7</tspan> <tspan x="268.80" textLength="15.00" lengthAdjust="spacingAndGlyphs">Red</tspan></text>
<text y="580.2" font-size="10.50" fill="#2a2a2a"><tspan x="258.80" textLength="5.00" lengthAdjust="spacingAndGlyphs">8</tspan> <tspan x="268.85" textLength="24.90" lengthAdjust="spacing">Black</tspan></text>
<text y="594.8" font-size="10.50" fill="#2a2a2a"><tspan x="258.80" textLength="5.00" lengthAdjust="spacingAndGlyphs">9</tspan> <tspan x="268.80" textLength="30.00" lengthAdjust="spacingAndGlyphs">Yellow</tspan></text>
<text y="610.1" font-size="10.50" fill="#2a2a2a"><tspan x="258.80" textLength="10.00" lengthAdjust="spacingAndGlyphs">10</tspan> <tspan x="274.11" textLength="29.37" lengthAdjust="spacing">Violet</tspan></text>
<text y="625.4" font-size="10.50" fill="#2a2a2a"><tspan x="258.80" textLength="10.00" lengthAdjust="spacingAndGlyphs">11</tspan> <tspan x="273.89" textLength="19.81" lengthAdjust="spacing">Pink</tspan></text>
<text y="641.4" font-size="10.50" fill="#2a2a2a"><tspan x="258.80" textLength="10.00" lengthAdjust="spacingAndGlyphs">12</tspan> <tspan x="273.80" textLength="20.00" lengthAdjust="spacingAndGlyphs">Aqua</tspan></text>
<text y="548.6" font-size="10.50" fill="#2a2a2a"><tspan x="258.80" textLength="15.00" lengthAdjust="spacingAndGlyphs">Key</tspan></text>
<text font-size="22.6" fill="#2a2a2a" transform="translate(122.5 638.9) scale(.68 1)">A</text>
<text font-size="22.6" fill="#2a2a2a" transform="translate(135.9 637.2) scale(1.5 1)">-</text>
<text font-size="22.6" fill="#2a2a2a" transform="translate(145.9 638.9) scale(.68 1)">A</text>
<text y="671.2" font-size="10.50" fill="#2a2a2a"><tspan x="224.99" textLength="34.42" lengthAdjust="spacing">Optical</tspan> <tspan x="264.76" textLength="54.88" lengthAdjust="spacing">Performance</tspan> <tspan x="324.82" textLength="59.76" lengthAdjust="spacing">Requirement:</tspan></text>
<g stroke="#bebebe" stroke-width="1" fill="none">
<rect x="224.5" y="678.5" width="253" height="103"/>
<path d="M310.5 678.5V781.5M393.5 678.5V781.5M310.5 699.5H477.5M224.5 720.5H477.5M224.5 740.5H477.5M224.5 761.5H477.5"/>
</g>
<text y="703.4" font-size="10.50" fill="#2a2a2a"><tspan x="257.30" textLength="20.00" lengthAdjust="spacingAndGlyphs">Type</tspan></text>
<text y="693.3" font-size="10.50" fill="#2a2a2a"><tspan x="319.50" textLength="15.00" lengthAdjust="spacingAndGlyphs">MTP</tspan> <tspan x="339.57" textLength="44.86" lengthAdjust="spacing">Connector</tspan></text>
<text y="693.3" font-size="10.50" fill="#2a2a2a"><tspan x="405.60" textLength="10.00" lengthAdjust="spacingAndGlyphs">CS</tspan> <tspan x="420.67" textLength="44.86" lengthAdjust="spacing">Connector</tspan></text>
<text y="713.8" font-size="10.50" fill="#2a2a2a"><tspan x="312.00" textLength="35.00" lengthAdjust="spacingAndGlyphs">MM(UPC)</tspan> <tspan x="352.00" textLength="15.00" lengthAdjust="spacingAndGlyphs">Low</tspan> <tspan x="372.02" textLength="19.96" lengthAdjust="spacing">Loss</tspan></text>
<text y="714.6" font-size="10.50" fill="#2a2a2a"><tspan x="418.10" textLength="35.00" lengthAdjust="spacingAndGlyphs">MM(UPC)</tspan></text>
<text y="734.4" font-size="10.50" fill="#2a2a2a"><tspan x="262.32" textLength="9.95" lengthAdjust="spacing">IL</tspan></text>
<text y="734.4" font-size="10.50" fill="#2a2a2a"><tspan x="329.61" textLength="29.77" lengthAdjust="spacing"><tspan style="font-family:'Noto Serif CJK SC','DejaVu Sans',serif">≤</tspan>0.35</tspan> <tspan x="364.50" textLength="10.00" lengthAdjust="spacingAndGlyphs">dB</tspan></text>
<text y="734.4" font-size="10.50" fill="#2a2a2a"><tspan x="413.21" textLength="29.77" lengthAdjust="spacing"><tspan style="font-family:'Noto Serif CJK SC','DejaVu Sans',serif">≤</tspan>0.20</tspan> <tspan x="448.10" textLength="10.00" lengthAdjust="spacingAndGlyphs">dB</tspan></text>
<text y="754.8" font-size="10.50" fill="#2a2a2a"><tspan x="262.30" textLength="10.00" lengthAdjust="spacingAndGlyphs">RL</tspan></text>
<text y="754.8" font-size="10.50" fill="#2a2a2a"><tspan x="334.50" textLength="20.00" lengthAdjust="spacingAndGlyphs"><tspan style="font-family:'Noto Serif CJK SC','DejaVu Sans',serif">≥</tspan>20</tspan> <tspan x="359.50" textLength="10.00" lengthAdjust="spacingAndGlyphs">dB</tspan></text>
<text y="754.8" font-size="10.50" fill="#2a2a2a"><tspan x="418.10" textLength="20.00" lengthAdjust="spacingAndGlyphs"><tspan style="font-family:'Noto Serif CJK SC','DejaVu Sans',serif">≥</tspan>25</tspan> <tspan x="443.10" textLength="10.00" lengthAdjust="spacingAndGlyphs">dB</tspan></text>
<text y="774.8" font-size="10.50" fill="#2a2a2a"><tspan x="230.04" textLength="19.52" lengthAdjust="spacing">Test</tspan> <tspan x="254.80" textLength="50.00" lengthAdjust="spacingAndGlyphs">Wavelength</tspan></text>
<text y="775.2" font-size="10.50" fill="#2a2a2a"><tspan x="339.50" textLength="25.00" lengthAdjust="spacingAndGlyphs">850nm</tspan></text>
<text y="775.2" font-size="10.50" fill="#2a2a2a"><tspan x="423.10" textLength="25.00" lengthAdjust="spacingAndGlyphs">850nm</tspan></text>
<g fill="none">
<path d="M520.5 679V774M602.5 679V774M683.5 679V774" stroke="#bcbcbc" stroke-width="1"/>
<path d="M520 679.1H684M520 692.7H684M520 706.3H684M520 720.1H684M520 733.7H684M520 747.4H684M520 760.8H684M520 774.1H684" stroke="#262626" stroke-width="1.25"/>
</g>
<text y="689.2" font-size="10.19" fill="#2a2a2a"><tspan x="539.47" textLength="43.45" lengthAdjust="spacing">Length(L)</tspan></text>
<text y="689.2" font-size="10.19" fill="#2a2a2a"><tspan x="611.48" textLength="63.05" lengthAdjust="spacingAndGlyphs">Tolerance(MM)</tspan></text>
<text y="702.8" font-size="10.19" fill="#2a2a2a"><tspan x="544.23" textLength="33.95" lengthAdjust="spacingAndGlyphs">L<tspan style="font-family:'Noto Serif CJK SC','DejaVu Sans',serif">≤</tspan>0.5M</tspan></text>
<text y="702.8" font-size="10.19" fill="#2a2a2a"><tspan x="628.60" textLength="28.79" lengthAdjust="spacing">+80/-0</tspan></text>
<text y="716.4" font-size="10.19" fill="#2a2a2a"><tspan x="534.53" textLength="53.35" lengthAdjust="spacingAndGlyphs">0.5M<tspan style="font-family:'Noto Serif CJK SC','DejaVu Sans',serif">＜</tspan>L<tspan style="font-family:'Noto Serif CJK SC','DejaVu Sans',serif">≤</tspan>5M</tspan></text>
<text y="716.4" font-size="10.19" fill="#2a2a2a"><tspan x="626.14" textLength="33.72" lengthAdjust="spacing">+120/-0</tspan></text>
<text y="730.2" font-size="10.19" fill="#2a2a2a"><tspan x="536.95" textLength="48.50" lengthAdjust="spacingAndGlyphs">5M<tspan style="font-family:'Noto Serif CJK SC','DejaVu Sans',serif">＜</tspan>L<tspan style="font-family:'Noto Serif CJK SC','DejaVu Sans',serif">≤</tspan>10M</tspan></text>
<text y="730.2" font-size="10.19" fill="#2a2a2a"><tspan x="626.14" textLength="33.72" lengthAdjust="spacing">+150/-0</tspan></text>
<text y="743.8" font-size="10.19" fill="#2a2a2a"><tspan x="534.53" textLength="53.35" lengthAdjust="spacingAndGlyphs">10M<tspan style="font-family:'Noto Serif CJK SC','DejaVu Sans',serif">＜</tspan>L<tspan style="font-family:'Noto Serif CJK SC','DejaVu Sans',serif">≤</tspan>30M</tspan></text>
<text y="743.8" font-size="10.19" fill="#2a2a2a"><tspan x="626.14" textLength="33.72" lengthAdjust="spacing">+250/-0</tspan></text>
<text y="757.5" font-size="10.19" fill="#2a2a2a"><tspan x="532.10" textLength="58.20" lengthAdjust="spacingAndGlyphs">30M<tspan style="font-family:'Noto Serif CJK SC','DejaVu Sans',serif">＜</tspan>L<tspan style="font-family:'Noto Serif CJK SC','DejaVu Sans',serif">≤</tspan>100M</tspan></text>
<text y="757.5" font-size="10.19" fill="#2a2a2a"><tspan x="626.02" textLength="33.95" lengthAdjust="spacingAndGlyphs">+1%L/-0</tspan></text>
<text y="770.9" font-size="10.19" fill="#2a2a2a"><tspan x="544.23" textLength="33.95" lengthAdjust="spacingAndGlyphs">L<tspan style="font-family:'Noto Serif CJK SC','DejaVu Sans',serif">＞</tspan>100M</tspan></text>
<text y="770.9" font-size="10.19" fill="#2a2a2a"><tspan x="621.17" textLength="43.65" lengthAdjust="spacingAndGlyphs">+1.5%L/-0</tspan></text>
<g stroke="#1c1c1c" stroke-width="1.3" fill="none">
<rect x="900" y="697.3" width="284.6" height="132.3" fill="#fff"/>
<path d="M900 738.2H1184.6M900 765H1184.6"/>
<path d="M987.5 697.3V738.2M1029.5 697.3V738.2M1054 697.3V738.2M1098.3 697.3V738.2M1128.7 697.3V738.2M1165.5 697.3V738.2M958.7 738.2V765"/>
</g>
<g fill="none" stroke="#222" stroke-width="0.9">
<circle cx="921.8" cy="717.6" r="10.6"/><circle cx="921.8" cy="717.6" r="6.2"/>
<path d="M952.4 711 L976 706.6 L976 728.4 L952.4 724.2 Z"/>
</g>
<g stroke="#ff2a2a" stroke-width="0.9">
<path d="M904.6 717.6H939M921.8 704V731.4M948 717.6H982.6"/>
</g>
<g class="sans" fill="#1a1a1a" font-size="12.4">
<text class="sans" x="994.6" y="722.2">Units</text>
<text class="sans" x="1060.8" y="722.4">Scale</text>
<text class="sans" x="1135.2" y="722.4">Rev.</text>
<text class="sans" x="913.0" y="756.2">Name</text>
</g>
<text x="1034.4" y="722.2" font-size="9.4" fill="#333">mm</text>
<text x="1170.8" y="722.4" font-size="8.8" fill="#333">A</text>
<text x="984.2" y="756.6" font-size="13.4" fill="#222" textLength="174.5" lengthAdjust="spacing">12F MTP to CS 2.0mm Patchcord</text>
<defs>
<filter id="triR" x="-5%" y="-30%" width="110%" height="160%" color-interpolation-filters="sRGB"><feMorphology in="SourceAlpha" operator="dilate" radius="2" result="d1"/><feMorphology in="SourceAlpha" operator="dilate" radius="1" result="d2"/><feComposite in="d1" in2="d2" operator="out" result="ring"/><feFlood flood-color="#a51e2a"/><feComposite in2="ring" operator="in" result="cring"/><feMerge><feMergeNode in="cring"/><feMergeNode in="SourceGraphic"/></feMerge></filter>
<filter id="triB" x="-5%" y="-30%" width="110%" height="160%" color-interpolation-filters="sRGB"><feMorphology in="SourceAlpha" operator="dilate" radius="2" result="d1"/><feMorphology in="SourceAlpha" operator="dilate" radius="1" result="d2"/><feComposite in="d1" in2="d2" operator="out" result="ring"/><feFlood flood-color="#1b7db8"/><feComposite in2="ring" operator="in" result="cring"/><feMerge><feMergeNode in="cring"/><feMergeNode in="SourceGraphic"/></feMerge></filter>
</defs>
<g filter="url(#triR)"><g transform="translate(925.0 809.5) skewX(-14.4) scale(0.712 1)"><text class="thin" font-size="40.5" fill="#a51e2a" stroke="#a51e2a" stroke-width="0.25">Speedy</text></g></g>
<g filter="url(#triB)"><g transform="translate(1034.4 809.5) skewX(-14.4) scale(0.705 1)"><text class="thin" font-size="40.5" fill="#1b7db8" stroke="#1b7db8" stroke-width="0.25">Fiber</text></g></g>
<g filter="url(#triB)"><g transform="translate(1105.4 809.5) skewX(-14.4) scale(0.95 1)"><text class="thin" font-size="40.5" fill="#1b7db8" stroke="#1b7db8" stroke-width="0.25">TX</text></g></g>
</svg></body></html>
